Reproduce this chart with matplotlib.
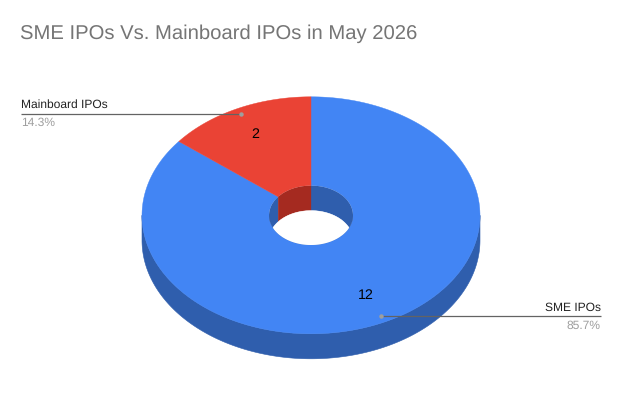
import numpy as np
import matplotlib
matplotlib.use("Agg")
import matplotlib.pyplot as plt
from matplotlib.patches import Polygon

categories = ["SME IPOs", "Mainboard IPOs"]
values = [12, 2]
colors = ["#4285f4", "#ea4335"]
side_colors = ["#2f5ead", "#a52a20"]
title = "SME IPOs Vs. Mainboard IPOs in May 2026"

plt.rcParams["font.family"] = ["Liberation Sans", "DejaVu Sans"]
plt.rcParams["text.hinting"] = "no_hinting"
plt.rcParams["text.hinting_factor"] = 8
W, H = 622, 418
fig = plt.figure(figsize=(W / 100, H / 100), dpi=100)
ax = fig.add_axes([0, 0, 1, 1])
ax.set_xlim(0, W)
ax.set_ylim(H, 0)
ax.axis("off")

CX, CY, RX, RY, DEPTH = 311.0, 215.3, 169.0, 118.5, 25.0
HX, HY = 42.0, 29.7


def pt(theta, rx, ry, dy=0.0):
    """theta: radians clockwise from 12 o'clock"""
    return np.column_stack([CX + rx * np.sin(theta), CY - ry * np.cos(theta) + dy])


total = sum(values)
fracs = np.array(values) / total
edges = np.concatenate([[0], np.cumsum(fracs)]) * 2 * np.pi


def arc(a, b, n=240):
    return np.linspace(a, b, n)


# outer wall (only the front half is visible)
for i in range(len(values)):
    a, b = max(edges[i], np.pi / 2), min(edges[i + 1], 3 * np.pi / 2)
    if b > a:
        t = arc(a, b)
        poly = np.vstack([pt(t, RX, RY), pt(t[::-1], RX, RY, DEPTH)])
        ax.add_patch(Polygon(poly, closed=True, fc=side_colors[i], ec=side_colors[i], lw=0.4, zorder=1))

# top faces
for i in range(len(values)):
    t = arc(edges[i], edges[i + 1])
    poly = np.vstack([pt(t, RX, RY), pt(t[::-1], HX, HY)])
    ax.add_patch(Polygon(poly, closed=True, fc=colors[i], ec=colors[i], lw=0.3, zorder=2))

# everything seen through the hole is clipped to the hole ellipse
t = arc(0, 2 * np.pi, 360)
hole_clip = Polygon(pt(t, HX, HY), closed=True, transform=ax.transData)

# inner walls: the back half of the hole, coloured by the sector it belongs to
for i in range(len(values)):
    for a, b in [(edges[i], min(edges[i + 1], np.pi / 2)),
                 (max(edges[i], 3 * np.pi / 2), edges[i + 1]),
                 (np.pi / 2 if edges[i] < np.pi / 2 else edges[i], 3 * np.pi / 2)]:
        if b <= a:
            continue
        tt = arc(a, b)
        poly = np.vstack([pt(tt, HX, HY), pt(tt[::-1], HX, HY, DEPTH)])
        p = Polygon(poly, closed=True, fc=side_colors[i], ec=side_colors[i], lw=0.2, zorder=3)
        ax.add_patch(p)
        p.set_clip_path(hole_clip)

# see-through part of the hole: hole ellipse intersected with itself shifted down
white = Polygon(pt(t, HX, HY, DEPTH), closed=True, fc="white", ec="white", lw=0.3, zorder=4)
ax.add_patch(white)
white.set_clip_path(hole_clip)

# value labels
ax.text(366, 295.5, str(values[0]), fontsize=10.3, color="black", ha="center", va="center", zorder=6)
ax.text(255, 134.5, str(values[1]), fontsize=10.3, color="black", ha="center", va="center", zorder=6)

# leader lines
ax.plot([380.5, 601], [316.3, 316.3], color="#636363", lw=0.9, zorder=6, solid_capstyle="butt")
ax.plot([380.5], [316.3], "o", ms=3.2, color="#9e9e9e", mec="none", zorder=7)
ax.plot([21, 241], [113.5, 113.5], color="#636363", lw=0.9, zorder=6, solid_capstyle="butt")
ax.plot([241], [113.5], "o", ms=3.2, color="#9e9e9e", mec="none", zorder=7)

# legend labels
ax.text(601, 307.5, categories[0], fontsize=8.65, color="#222222", ha="right", va="center")
ax.text(600.7, 325.5, f"{fracs[0] * 100:.1f}%", fontsize=8.65, color="#9e9e9e", ha="right", va="center")
ax.text(21, 105, categories[1], fontsize=8.65, color="#222222", ha="left", va="center")
ax.text(21, 122.5, f"{fracs[1] * 100:.1f}%", fontsize=8.65, color="#9e9e9e", ha="left", va="center")

ax.text(20.5, 33.5, title, fontsize=14.6, color="#757575", ha="left", va="center")

fig.savefig("out.png", dpi=100, facecolor="white")
